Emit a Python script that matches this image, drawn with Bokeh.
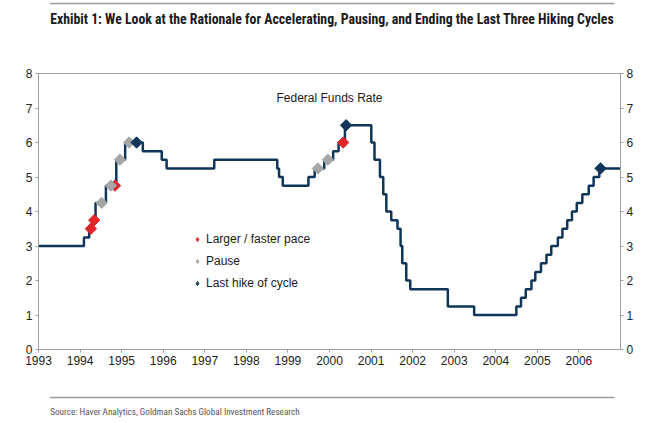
import math
import pandas as pd
from bokeh.plotting import figure
from bokeh.models import Range1d, LinearAxis, FixedTicker, Label, Legend, LegendItem
from bokeh.layouts import column
from bokeh.embed import file_html
from bokeh.resources import INLINE
from bokeh.core.properties import value

# ---------------- data ----------------
change_dates = [
    "1993-01-01", "1994-02-04", "1994-03-22", "1994-04-18", "1994-05-17", "1994-08-16",
    "1994-11-15", "1995-02-01", "1995-07-06", "1995-12-19", "1996-01-31", "1997-03-25",
    "1998-09-29", "1998-10-15", "1998-11-17", "1999-06-30", "1999-08-24", "1999-11-16",
    "2000-02-02", "2000-03-21", "2000-05-16", "2001-01-03", "2001-01-31", "2001-03-20",
    "2001-04-18", "2001-05-15", "2001-06-27", "2001-08-21", "2001-09-17", "2001-10-02",
    "2001-11-06", "2001-12-11", "2002-11-06", "2003-06-25", "2004-06-30", "2004-08-10",
    "2004-09-21", "2004-11-10", "2004-12-14", "2005-02-02", "2005-03-22", "2005-05-03",
    "2005-06-30", "2005-08-09", "2005-09-20", "2005-11-01", "2005-12-13", "2006-01-31",
    "2006-03-28", "2006-05-10", "2006-06-29", "2007-01-01",
]
fed_funds = [
    3.00, 3.25, 3.50, 3.75, 4.25, 4.75,
    5.50, 6.00, 5.75, 5.50, 5.25, 5.50,
    5.25, 5.00, 4.75, 5.00, 5.25, 5.50,
    5.75, 6.00, 6.50, 6.00, 5.50, 5.00,
    4.50, 4.00, 3.75, 3.50, 3.00, 2.50,
    2.00, 1.75, 1.25, 1.00, 1.25, 1.50,
    1.75, 2.00, 2.25, 2.50, 2.75, 3.00,
    3.25, 3.50, 3.75, 4.00, 4.25, 4.50,
    4.75, 5.00, 5.25, 5.25,
]

faster_x = [1994.26, 1994.34, 1994.84, 2000.33]
faster_y = [3.50, 3.75, 4.75, 6.00]
pause_x = [1994.52, 1994.74, 1994.96, 1995.18, 1999.72, 1999.96]
pause_y = [4.25, 4.75, 5.50, 6.00, 5.25, 5.50]
last_x = [1995.36, 2000.40, 2006.52]
last_y = [6.00, 6.50, 5.25]

year_ticks = list(range(1993, 2007))
year_labels = [str(y) for y in year_ticks]
pct_ticks = list(range(0, 9))

legend_labels = ["Larger / faster pace", "Pause", "Last hike of cycle"]
title_text = "Exhibit 1: We Look at the Rationale for Accelerating, Pausing, and Ending the Last Three Hiking Cycles"
source_text = "Source: Haver Analytics, Goldman Sachs Global Investment Research"

# ---------------- helpers ----------------
def frac_year(s):
    d = pd.Timestamp(s)
    days = 366 if d.is_leap_year else 365
    return d.year + (d.dayofyear - 1) / days

step_x = [frac_year(s) for s in change_dates]

NAVY = "#0F3558"
RED = "#E3242B"
GRAY = "#A6A6A6"
AXIS = "#A0A0A0"
SANS = "Liberation Sans"
NARROW = "Roboto Condensed"
NAN = float("nan")

# ---------------- header ----------------
hdr = figure(width=650, height=55, x_range=Range1d(0, 650), y_range=Range1d(55, 0),
             output_backend="svg", toolbar_location=None, x_axis_type=None, y_axis_type=None,
             min_border=0)
hdr.outline_line_color = None
hdr.xgrid.visible = False
hdr.ygrid.visible = False
hdr.segment(x0=[13], y0=[3], x1=[643], y1=[3], line_color="#9A9A9A", line_width=1.5)
hdr.text(x=[13], y=[18], text=[title_text], text_font=value(NARROW), text_font_style="bold",
         text_font_size="13.8px", text_color="#1A1A1A", text_baseline="middle", text_align="left")

# ---------------- main chart ----------------
p = figure(width=650, height=340, x_range=Range1d(1993, 2007), y_range=Range1d(0, 8),
           output_backend="svg", toolbar_location=None,
           min_border_left=38, min_border_right=30, min_border_top=18, min_border_bottom=46)
p.xgrid.visible = False
p.ygrid.visible = False
p.outline_line_color = AXIS
p.outline_line_width = 1

p.xaxis.ticker = FixedTicker(ticks=year_ticks)
p.xaxis.major_label_overrides = {t: l for t, l in zip(year_ticks, year_labels)}
p.yaxis.ticker = FixedTicker(ticks=pct_ticks)
right = LinearAxis(ticker=FixedTicker(ticks=pct_ticks))
p.add_layout(right, "right")

for ax in [p.xaxis[0], p.yaxis[0], right]:
    ax.axis_line_color = AXIS
    ax.major_tick_line_color = AXIS
    ax.minor_tick_line_color = None
    ax.major_tick_out = 3
    ax.major_tick_in = 0
    ax.major_label_text_font = SANS
    ax.major_label_text_font_size = "12px"
    ax.major_label_text_color = "#222222"
    ax.major_label_standoff = 3

p.step(step_x, fed_funds, mode="after", line_color=NAVY, line_width=2.5)

p.scatter(faster_x, faster_y, marker="square", angle=math.pi / 4, size=8,
          fill_color=RED, line_color=RED)
p.scatter(pause_x, pause_y, marker="square", angle=math.pi / 4, size=8,
          fill_color=GRAY, line_color=GRAY)
p.scatter(last_x, last_y, marker="square", angle=math.pi / 4, size=8,
          fill_color=NAVY, line_color=NAVY)

# legend swatches (renderers with a non-plotted point, drawn only in the legend)
lg_fast = p.scatter([NAN], [NAN], marker="diamond", size=10, fill_color=RED, line_color=RED)
lg_pause = p.scatter([NAN], [NAN], marker="diamond", size=10, fill_color=GRAY, line_color=GRAY)
lg_last = p.scatter([NAN], [NAN], marker="diamond", size=10, fill_color=NAVY, line_color=NAVY)

legend = Legend(items=[LegendItem(label=legend_labels[0], renderers=[lg_fast]),
                       LegendItem(label=legend_labels[1], renderers=[lg_pause]),
                       LegendItem(label=legend_labels[2], renderers=[lg_last])],
                location=(154, 56), glyph_width=10, glyph_height=20, label_standoff=4,
                spacing=2, padding=0, margin=0, border_line_color=None,
                background_fill_alpha=0, label_text_font=SANS, label_text_font_size="12px",
                label_text_color="#1A1A1A")
p.add_layout(legend, "center")

p.add_layout(Label(x=1993, y=8, x_offset=-8, y_offset=2, text="Percent",
                   text_align="left", text_baseline="bottom", text_font=SANS,
                   text_font_size="12px", text_color="#1A1A1A"))
p.add_layout(Label(x=2007, y=8, x_offset=-8, y_offset=2, text="Percent",
                   text_align="right", text_baseline="bottom", text_font=SANS,
                   text_font_size="12px", text_color="#1A1A1A"))
p.add_layout(Label(x=2000, y=7.3, text="Federal Funds Rate", text_align="center",
                   text_baseline="middle", text_font=SANS, text_font_size="12px",
                   text_color="#1A1A1A"))

# ---------------- footer ----------------
ftr = figure(width=650, height=28, x_range=Range1d(0, 650), y_range=Range1d(28, 0),
             output_backend="svg", toolbar_location=None, x_axis_type=None, y_axis_type=None,
             min_border=0)
ftr.outline_line_color = None
ftr.xgrid.visible = False
ftr.ygrid.visible = False
ftr.segment(x0=[13], y0=[2], x1=[643], y1=[2], line_color="#9A9A9A", line_width=1.5)
ftr.text(x=[13], y=[16], text=[source_text], text_font=value(NARROW),
         text_font_size="9.2px", text_color="#555555", text_baseline="middle", text_align="left")

layout = column(hdr, p, ftr, spacing=0)
open("out.html", "w").write(file_html(layout, INLINE))
